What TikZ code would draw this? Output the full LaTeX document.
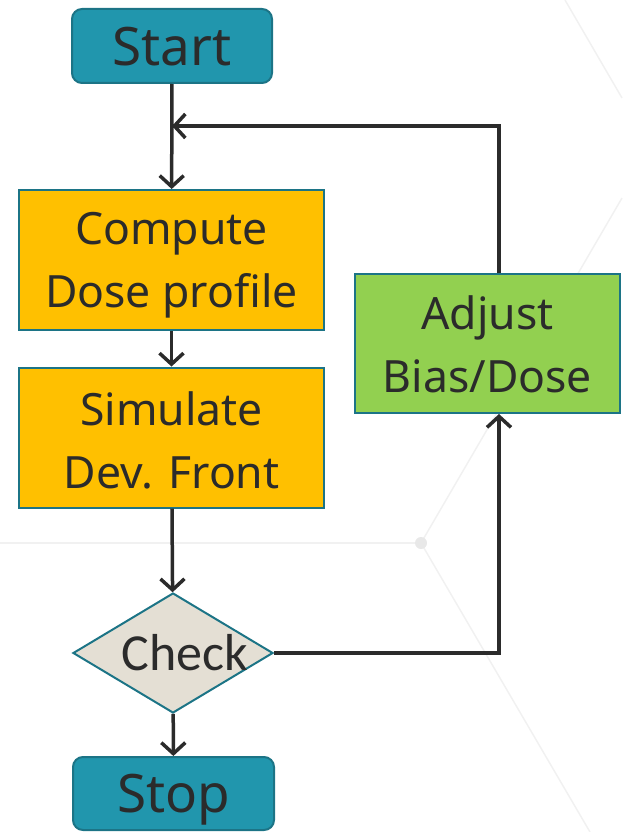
\documentclass[tikz,border=0pt]{standalone}
\usepackage{fontspec}
\setmainfont{Noto Sans}
\newfontfamily\checkfont{Carlito}
\usetikzlibrary{arrows.meta,shapes.geometric}
\definecolor{ink}{HTML}{2B2B2B}
\definecolor{tealfill}{HTML}{2196AD}
\definecolor{tealedge}{HTML}{1C7486}
\definecolor{amber}{HTML}{FFC000}
\definecolor{leaf}{HTML}{92D050}
\definecolor{sand}{HTML}{E4DFD4}
\definecolor{haze}{HTML}{F1F1F1}
\definecolor{hazedot}{HTML}{E8E8E8}
\tikzset{
  terminal/.style={rounded corners=10pt, fill=tealfill, draw=tealedge, line width=2pt, inner sep=0pt},
  process/.style={fill=amber, draw=tealedge, line width=2pt, inner sep=0pt},
  decision/.style={diamond, aspect=1.667, fill=sand, draw=tealedge, line width=2pt,
    inner sep=0pt, minimum width=200pt, minimum height=120pt},
  termtext/.style={text=ink, inner sep=0pt, font=\fontsize{53}{60}\selectfont},
  proctext/.style={text=ink, inner sep=0pt, align=center, font=\fontsize{44.5}{63}\selectfont},
  flow/.style={draw=ink, line width=3.5pt, -{Straight Barb[length=11pt,width=24pt]}},
  link/.style={draw=ink, line width=3.5pt},
  bgline/.style={draw=haze, line width=1.5pt}
}
\begin{document}
\begin{tikzpicture}[x=1pt,y=-1pt]
\useasboundingbox (0,0) rectangle (622,832);
% faint background pattern
\draw[bgline] (0,543) -- (421,543);
\draw[bgline] (421,543) -- (622,198);
\draw[bgline] (421,543) -- (590,832);
\draw[bgline] (565,0) -- (622,98);
\fill[hazedot] (421,543) circle (6pt);

% boxes
\node[terminal, minimum width=200pt, minimum height=74pt] (start) at (172,46) {};
\node[process, minimum width=305pt, minimum height=140pt] (compute) at (171.5,260) {};
\node[process, minimum width=305pt, minimum height=140pt] (simulate) at (171.5,437.5) {};
\node[process, fill=leaf, minimum width=265pt, minimum height=139pt] (adjust) at (487.5,343.5) {};
\node[decision] (check) at (173,653) {};
\node[terminal, minimum width=201pt, minimum height=73pt] (stop) at (173.5,793.5) {};

% labels
\node[termtext] (starttext) at ([yshift=-1pt]start.center) {Start};
\node[proctext] (computetext) at ([yshift=-5pt]compute.center) {Compute\\Dose profile};
\node[proctext] (simulatetext) at ([yshift=-3pt]simulate.center) {Simulate\\Dev. Front};
\node[proctext] (adjusttext) at ([yshift=-1pt]adjust.center) {Adjust\\Bias/Dose};
\node[text=ink, inner sep=0pt, font=\checkfont\fontsize{52}{60}\selectfont] (checktext) at ([xshift=12pt]check.center) {Check};
\node[termtext] (stoptext) at ([yshift=-6pt]stop.center) {Stop};

% connectors
\coordinate (merge) at (start.south |- 0,126);
\coordinate (upturn) at ([xshift=11.5pt]adjust.north);
\coordinate (downturn) at ([xshift=11.5pt]adjust.south);
\draw[flow] (start) -- (compute);
\draw[link] (upturn) |- (merge);
\draw[flow] ([xshift=1pt]merge) -- (merge);
\draw[flow] (compute) -- (simulate);
\draw[flow] (simulate) -- (check);
\draw[flow] (check) -- (stop);
\draw[flow] (check.east) -| (downturn);
\end{tikzpicture}
\end{document}
